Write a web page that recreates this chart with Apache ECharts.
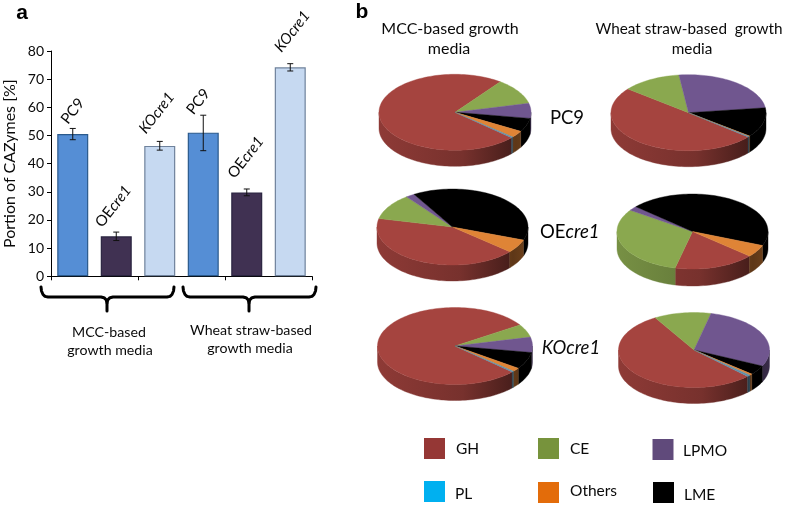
<!DOCTYPE html>
<html><head><meta charset="utf-8">
<style>html,body{margin:0;padding:0;background:#fff}#c{width:797px;height:506px}</style>
<script src="https://cdn.jsdelivr.net/npm/echarts@6/dist/echarts.min.js"></script>
</head><body><div id="c"></div>
<script>
// ---------- panel a data ----------
const barCategories = ['PC9','OEcre1','KOcre1','PC9','OEcre1','KOcre1'];
const barValues = [50.5,14.2,46.3,51,29.8,74.2];
const errLow  = [48.5,12.7,44.8,44.6,28.6,72.9];
const errHigh = [52.5,15.7,47.9,57.2,31,75.5];
// ---------- panel b data: one entry per pie, percent of CAZymes ----------
const pieNames = ['PC9 MCC','PC9 wheat','OEcre1 MCC','OEcre1 wheat','KOcre1 MCC','KOcre1 wheat'];
const sliceNames = ['GH','CE','LPMO','LME','Others','PL'];
const GH     = [73.5,49.7,42.3,17.3,78.9,54.0];
const CE     = [11.0,12.3,11.0,30.9,5.5,12.2];
const LPMO   = [6.4,24.9,1.9,1.9,6.4,28.4];
const LME    = [5.8,12.6,39.1,44.6,7.1,4.1];
const Others = [2.9,0.2,5.7,5.3,1.6,0.6];
const PL     = [0.4,0.3,0,0,0.4,0.7];
const sliceSeries = [GH,CE,LPMO,LME,Others,PL];

// ---------- styles / layout ----------
const FONT = 'Lato';
const INK = '#0a0a0a';
const barFill = ['#558ed5','#403152','#c6d9f1'];
const barEdge = ['#2b5a8c','#2a2440','#6f829c'];
const sliceTop = {GH:'#a5443f',CE:'#8aa84f',LPMO:'#70568f',LME:'#000000',Others:'#df8436',PL:'#5f8fa8'};
const legendCol = {GH:'#953735',CE:'#77933c',LPMO:'#604a7b',PL:'#00b0f0',Others:'#e36c0a',LME:'#000000'};
const pieLayout = [
  {cx:455,  cy:112.3,rx:76,  ry:38,  d:16,start:42},
  {cx:688.5,cy:112.7,rx:77.5,ry:38,  d:16,start:39.7},
  {cx:452.5,cy:227,  rx:75.5,ry:38,  d:16,start:40.6},
  {cx:692.5,cy:231.5,rx:75.5,ry:37.5,d:17,start:41},
  {cx:455,  cy:346,  rx:77.5,ry:38.5,d:16,start:42.5},
  {cx:694,  cy:350,  rx:75.5,ry:37.5,d:16,start:44.7}
];
const LABEL_ROT = 52;
const labelOffsets = [[0,-23],[-3,-30],[-3,-33],[-5,-31],[-1,-35],[2,-36]];
const braceLines = [
  [[41,287],[41.5,291],[43,294.5],[45,296.4],[48,297],[101,297],[104,297.7],[106.2,299.8],[107,303],[107.8,299.8],[110,297.7],[113,297],[167,297],[170,296.4],[172,294.5],[173.5,291],[174,287]],
  [[107,303],[107,311]],
  [[183,287],[183.5,291],[185,294.5],[187,296.4],[190,297],[243,297],[246,297.7],[248.2,299.8],[249,303],[249.8,299.8],[252,297.7],[255,297],[309,297],[312,296.4],[314,294.5],[315.5,291],[316,287]],
  [[249,303],[249,311]]
];

function shade(hex,f){
  const n=parseInt(hex.slice(1),16);
  return 'rgb('+[(n>>16)&255,(n>>8)&255,n&255].map(v=>Math.round(v*f)).join(',')+')';
}
function pieRender(pieIdx){
  return function(params){
    const L=pieLayout[pieIdx], name=sliceNames[params.dataIndex];
    const vals=sliceSeries.map(s=>s[pieIdx]);
    const total=vals.reduce((a,b)=>a+b,0);
    let before=0; for(let i=0;i<params.dataIndex;i++) before+=vals[i];
    const a0=L.start+before/total*360, a1=a0+vals[params.dataIndex]/total*360;
    if(a1-a0<=0) return {type:'group',children:[]};
    const pt=(t,dy)=>{const r=t*Math.PI/180;return [L.cx+L.rx*Math.cos(r),L.cy+(dy||0)+L.ry*Math.sin(r)];};
    const steps=Math.max(2,Math.ceil((a1-a0)/2));
    const top=[[L.cx,L.cy]];
    for(let i=0;i<=steps;i++) top.push(pt(a0+(a1-a0)*i/steps));
    const children=[];
    // wall: the parts of the slice on the front half of the ellipse
    for(const k of [0,360]){
      const s=Math.max(a0,k), e=Math.min(a1,k+180);
      if(e>s){
        const n=Math.max(2,Math.ceil((e-s)/2)), poly=[];
        for(let i=0;i<=n;i++) poly.push(pt(s+(e-s)*i/n));
        for(let i=n;i>=0;i--) poly.push(pt(s+(e-s)*i/n,L.d));
        const fill=new echarts.graphic.LinearGradient(L.cx-L.rx,0,L.cx+L.rx,0,[
          {offset:0,color:shade(sliceTop[name],.86)},
          {offset:.55,color:shade(sliceTop[name],.72)},
          {offset:.9,color:shade(sliceTop[name],.42)},
          {offset:1,color:shade(sliceTop[name],.5)}],true);
        children.push({type:'polygon',shape:{points:poly},style:{fill,stroke:fill,lineWidth:.4}});
      }
    }
    children.push({type:'polygon',shape:{points:top},style:{fill:sliceTop[name],stroke:sliceTop[name],lineWidth:.4}});
    return {type:'group',children};
  };
}
const pieSeries=pieNames.map((n,i)=>({
  type:'custom',name:n,coordinateSystem:'none',silent:true,
  data:sliceNames.map((s,j)=>({name:s,value:sliceSeries[j][i]})),
  renderItem:pieRender(i)
}));

const labelRich={
  r:{fontFamily:FONT,fontSize:15,fontStyle:'normal',color:INK},
  i:{fontFamily:FONT,fontSize:15,fontStyle:'italic',color:INK}
};
function labelText(c){
  if(c==='PC9') return '{r|PC9}';
  if(c==='OEcre1') return '{r|OE}{i|cre1}';
  return '{i|KOcre1}';
}
// label offsets are applied in the rotated frame of the label
function localOffset(g){
  const t=LABEL_ROT*Math.PI/180;
  return [g[0]*Math.cos(t)-g[1]*Math.sin(t), g[0]*Math.sin(t)+g[1]*Math.cos(t)];
}
const txt=(x,y,text,size,extra)=>({type:'text',x,y,style:Object.assign({text,fontFamily:FONT,fontSize:size,fill:INK,align:'center',verticalAlign:'middle'},extra||{})});
const graphics=[
  txt(22,13,'a',21,{fontFamily:'Liberation Sans',fontWeight:'bold',fill:'#000'}),
  txt(362,12,'b',21,{fontFamily:'Liberation Sans',fontWeight:'bold',fill:'#000'}),
  txt(109,332,'MCC-based',14.2),txt(110,350,'growth media',14.2),
  txt(251,330,'Wheat straw-based',14.2),txt(250,348,'growth media',14.2),
  txt(450,29,'MCC-based growth',16),txt(449,49,'media',16),
  txt(689,29,'Wheat straw-based  growth',15.3),txt(692,49,'media',15.3),
  txt(567,118,'PC9',18.5),
  {type:'text',x:540,y:232,style:{rich:{r:{fontFamily:FONT,fontSize:18.5,fontStyle:'normal',color:INK},i:{fontFamily:FONT,fontSize:18.5,fontStyle:'italic',color:INK}},text:'{r|OE}{i|cre1}',verticalAlign:'middle'}},
  txt(571,348,'KOcre1',18.5,{fontStyle:'italic'})
];
const legendItems=[
  ['GH',424,438,456,449],['CE',538,438,570,449],['LPMO',652.5,439,683,451],
  ['PL',424,481,455,494],['Others',538,482,570,491],['LME',653,482,684,495]
];
legendItems.forEach(([n,sx,sy,tx,ty])=>{
  graphics.push({type:'rect',shape:{x:sx,y:sy,width:21,height:21},style:{fill:legendCol[n]}});
  graphics.push(txt(tx,ty,n,15.5,{align:'left'}));
});

const option={
  animation:false,
  backgroundColor:'#fff',
  grid:{left:51,top:51,width:261,height:225.3,containLabel:false},
  xAxis:{type:'category',data:barCategories,
    axisLine:{lineStyle:{color:'#000',width:1}},
    axisTick:{show:true,length:4,lineStyle:{color:'#000'}},
    axisLabel:{show:false},splitLine:{show:false}},
  yAxis:{type:'value',min:0,max:80,interval:10,
    name:'Portion of CAZymes [%]',nameLocation:'middle',nameGap:33,
    nameTextStyle:{fontFamily:FONT,fontSize:16,color:INK},
    axisLine:{show:true,lineStyle:{color:'#000',width:1}},
    axisTick:{show:true,length:4,lineStyle:{color:'#000'}},
    axisLabel:{fontFamily:FONT,fontSize:14,color:INK,margin:7},
    splitLine:{show:false}},
  graphic:{elements:graphics},
  series:[
    {type:'bar',barWidth:31,silent:true,
     data:barValues.map((v,i)=>({
       value:v,
       itemStyle:{color:barFill[i%3],borderColor:barEdge[i%3],borderWidth:1.2},
       label:{show:true,position:'top',distance:0,rotate:LABEL_ROT,align:'center',verticalAlign:'middle',
         offset:localOffset(labelOffsets[i]),formatter:labelText(barCategories[i]),rich:labelRich}
     }))},
    {type:'custom',name:'error',silent:true,z:5,
     data:barValues.map((v,i)=>[i,errLow[i],errHigh[i]]),
     encode:{x:0,y:[1,2]},
     renderItem(params,api){
       const lo=api.coord([api.value(0),api.value(1)]),hi=api.coord([api.value(0),api.value(2)]);
       const x=lo[0],c=3;
       const st={stroke:'#111',lineWidth:1,fill:null};
       return {type:'group',children:[
         {type:'line',shape:{x1:x,y1:lo[1],x2:x,y2:hi[1]},style:st},
         {type:'line',shape:{x1:x-c,y1:lo[1],x2:x+c,y2:lo[1]},style:st},
         {type:'line',shape:{x1:x-c,y1:hi[1],x2:x+c,y2:hi[1]},style:st}]};
     }},
    {type:'custom',name:'braces',coordinateSystem:'none',silent:true,
     data:braceLines.map((b,i)=>i),
     renderItem(params){
       return {type:'polyline',shape:{points:braceLines[params.dataIndex]},
         style:{fill:null,stroke:'#000',lineWidth:3,lineJoin:'round',lineCap:'round'}};
     }},
    ...pieSeries
  ]
};
echarts.init(document.getElementById('c'),null,{renderer:'canvas'}).setOption(option);
</script></body></html>
